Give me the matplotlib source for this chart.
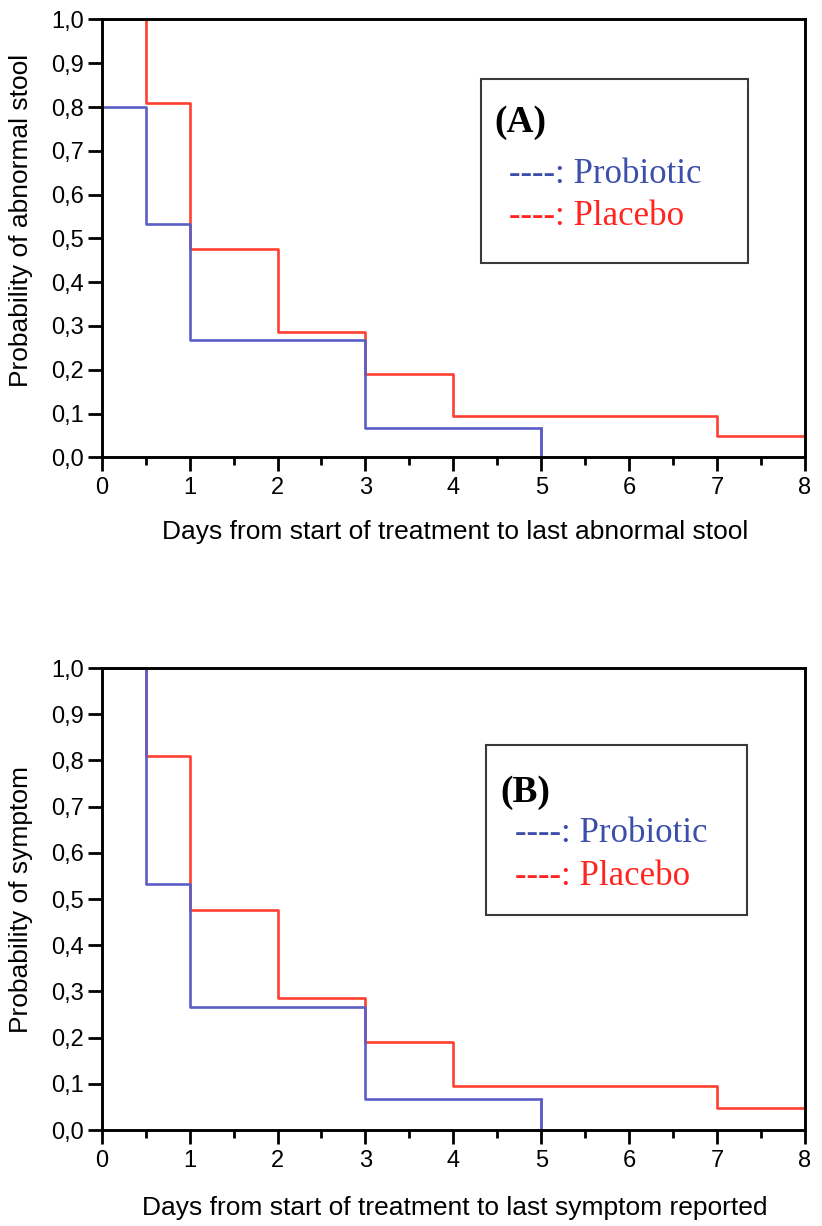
import matplotlib.pyplot as plt
from matplotlib.ticker import FuncFormatter, MultipleLocator

# Kaplan-Meier style step data (value holds from x[i] to x[i+1])
days_probiotic_a = [0, 0.5, 1, 3, 5]
prob_probiotic_a = [0.8, 0.533, 0.267, 0.067, 0.0]
days_probiotic_b = [0, 0.5, 1, 3, 5]
prob_probiotic_b = [1.0, 0.533, 0.267, 0.067, 0.0]
days_placebo = [0, 0.5, 1, 2, 3, 4, 7, 8]
prob_placebo = [1.0, 0.81, 0.476, 0.286, 0.19, 0.095, 0.048, 0.048]

xlabels = ['Days from start of treatment to last abnormal stool',
           'Days from start of treatment to last symptom reported']
ylabels = ['Probability of abnormal stool', 'Probability of symptom']
panel_names = ['(A)', '(B)']

blue = '#5a5ec6'
red = '#ff4030'
blue_txt = '#3b4eaa'
red_txt = '#ff2420'
sans = 'Liberation Sans'
serif = 'Liberation Serif'

fig = plt.figure(figsize=(8.22, 12.26), dpi=100)
ax_a = fig.add_axes([0.1237, 0.627, 0.8556, 0.3571])
ax_b = fig.add_axes([0.1237, 0.0783, 0.8556, 0.3768])

comma = FuncFormatter(lambda v, p: ('%.1f' % v).replace('.', ','))

def draw(ax, dp, pp, i, box, ys, ylab_y):
    ax.step(days_placebo, prob_placebo, where='post', color=red, lw=1.9)
    ax.step(dp, pp, where='post', color=blue, lw=1.9)
    ax.plot([dp[-1], dp[-1]], [pp[-2], 0], color=blue, lw=1.9)
    ax.set_xlim(0, 8)
    ax.set_ylim(0, 1.0)
    ax.xaxis.set_major_locator(MultipleLocator(1))
    ax.xaxis.set_minor_locator(MultipleLocator(0.5))
    ax.yaxis.set_major_locator(MultipleLocator(0.1))
    ax.yaxis.set_major_formatter(comma)
    ax.tick_params(which='major', direction='out', length=10, width=2,
                   labelsize=17)
    ax.tick_params(axis='x', which='major', pad=4.5)
    ax.tick_params(axis='y', which='major', pad=2.5)
    ax.tick_params(which='minor', direction='out', length=5.5, width=2)
    for s in ax.spines.values():
        s.set_linewidth(2.1)
    ax.set_xlabel(xlabels[i], fontsize=19, family=sans)
    ax.set_ylabel(ylabels[i], fontsize=19, family=sans)
    ax.xaxis.set_label_coords(0.502, -0.143)
    ax.yaxis.set_label_coords(-0.098, ylab_y)
    for lab in ax.get_xticklabels() + ax.get_yticklabels():
        lab.set_family(sans)
    # legend box
    x0, y0, x1, y1 = box
    ax.add_patch(plt.Rectangle((x0, y0), x1 - x0, y1 - y0,
                               transform=ax.transAxes, fill=False,
                               lw=1.5, ec='#3a3a3a'))
    ax.text(x0 + 0.02, ys[0], panel_names[i], transform=ax.transAxes,
            fontsize=27, fontweight='bold', family=serif, va='baseline')
    ax.text(x0 + 0.04, ys[1], '----: Probiotic', transform=ax.transAxes,
            fontsize=25, color=blue_txt, family=serif, va='baseline')
    ax.text(x0 + 0.04, ys[2], '----: Placebo', transform=ax.transAxes,
            fontsize=25, color=red_txt, family=serif, va='baseline')

draw(ax_a, days_probiotic_a, prob_probiotic_a, 0,
     (0.539, 0.444, 0.919, 0.865), (0.743, 0.626, 0.531), 0.54)
draw(ax_b, days_probiotic_b, prob_probiotic_b, 1,
     (0.547, 0.465, 0.917, 0.833), (0.711, 0.624, 0.530), 0.5)

fig.savefig('out.png', dpi=100)
